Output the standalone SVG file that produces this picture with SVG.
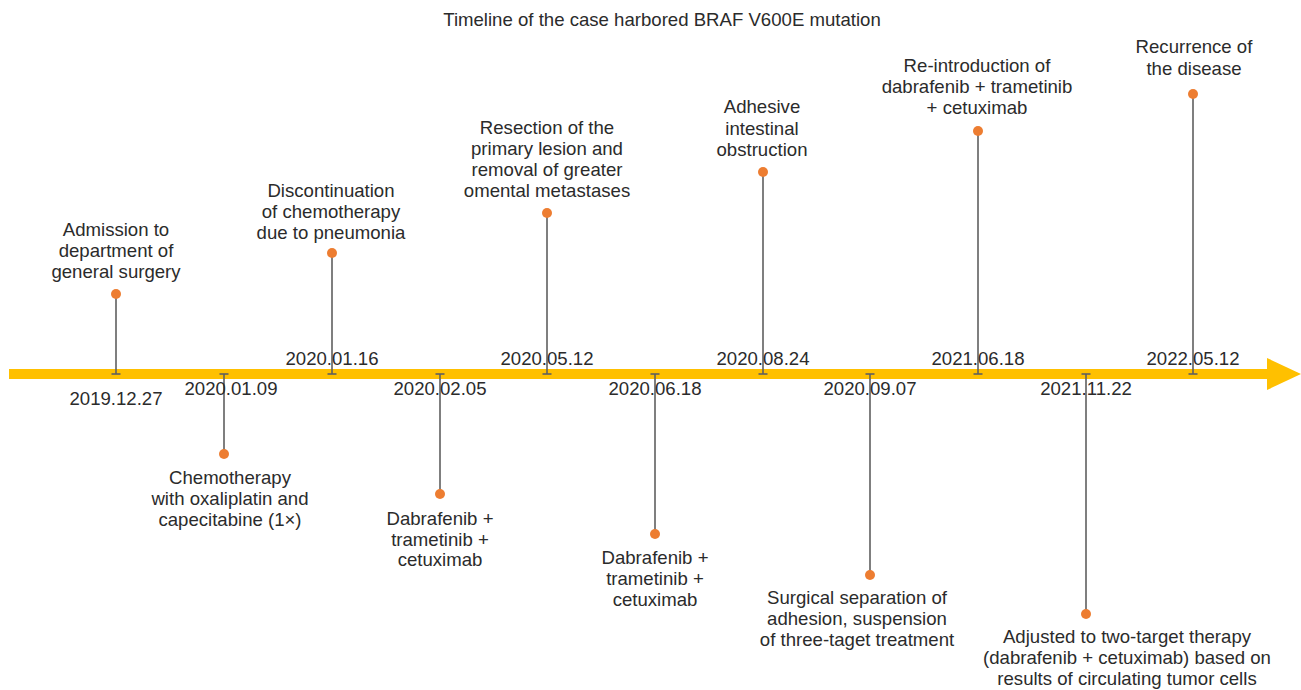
<svg xmlns="http://www.w3.org/2000/svg" width="1301" height="690" viewBox="0 0 1301 690">
<style>
text{font-family:"Liberation Sans",Arial,Helvetica,sans-serif;font-size:18.6px;fill:#2b2b2b;text-anchor:middle}
.stem{stroke:#5f5f5f;stroke-width:1.6;fill:none}
.dot{fill:#ED7D31}
</style>
<defs>
<g id="capmark"><line x1="-4.5" y1="0" x2="4.5" y2="0" stroke="#5f5f5f" stroke-width="1.6"/></g>
</defs>
<rect width="1301" height="690" fill="#ffffff"/>
<text x="662" y="26">Timeline of the case harbored BRAF V600E mutation</text>
<g id="axis">
<rect x="9" y="369" width="1260" height="10" fill="#FFC000"/>
<polygon points="1267,358 1301,374 1267,390" fill="#FFC000"/>
</g>
<g id="connectors">
<line class="stem" x1="116" y1="294" x2="116" y2="374"/><use href="#capmark" x="116" y="374"/>
<line class="stem" x1="332" y1="253" x2="332" y2="374"/><use href="#capmark" x="332" y="374"/>
<line class="stem" x1="547" y1="213" x2="547" y2="374"/><use href="#capmark" x="547" y="374"/>
<line class="stem" x1="763" y1="172" x2="763" y2="374"/><use href="#capmark" x="763" y="374"/>
<line class="stem" x1="978" y1="131" x2="978" y2="374"/><use href="#capmark" x="978" y="374"/>
<line class="stem" x1="1193" y1="94" x2="1193" y2="374"/><use href="#capmark" x="1193" y="374"/>
<line class="stem" x1="224" y1="374" x2="224" y2="454"/><use href="#capmark" x="224" y="374"/>
<line class="stem" x1="440" y1="374" x2="440" y2="494"/><use href="#capmark" x="440" y="374"/>
<line class="stem" x1="655" y1="374" x2="655" y2="534"/><use href="#capmark" x="655" y="374"/>
<line class="stem" x1="870" y1="374" x2="870" y2="575"/><use href="#capmark" x="870" y="374"/>
<line class="stem" x1="1086" y1="374" x2="1086" y2="614"/><use href="#capmark" x="1086" y="374"/>
</g>
<g id="e20191227">
<circle class="dot" cx="116" cy="294" r="5"/>
<text x="116" y="405">2019.12.27</text>
<text x="116" y="236">Admission to</text>
<text x="116" y="257">department of</text>
<text x="116" y="278">general surgery</text>
</g>
<g id="e20200109">
<circle class="dot" cx="224" cy="454" r="5"/>
<text x="231" y="395">2020.01.09</text>
<text x="230" y="484">Chemotherapy</text>
<text x="230" y="505">with oxaliplatin and</text>
<text x="230" y="526">capecitabine (1×)</text>
</g>
<g id="e20200116">
<circle class="dot" cx="332" cy="253" r="5"/>
<text x="332" y="365">2020.01.16</text>
<text x="331" y="197">Discontinuation</text>
<text x="331" y="218">of chemotherapy</text>
<text x="331" y="239">due to pneumonia</text>
</g>
<g id="e20200205">
<circle class="dot" cx="440" cy="494" r="5"/>
<text x="440" y="395">2020.02.05</text>
<text x="440" y="525">Dabrafenib +</text>
<text x="440" y="546">trametinib +</text>
<text x="440" y="566">cetuximab</text>
</g>
<g id="e20200512">
<circle class="dot" cx="547" cy="213" r="5"/>
<text x="547" y="365">2020.05.12</text>
<text x="547" y="134">Resection of the</text>
<text x="547" y="155">primary lesion and</text>
<text x="547" y="176">removal of greater</text>
<text x="547" y="197">omental metastases</text>
</g>
<g id="e20200618">
<circle class="dot" cx="655" cy="534" r="5"/>
<text x="655" y="395">2020.06.18</text>
<text x="655" y="564">Dabrafenib +</text>
<text x="655" y="585">trametinib +</text>
<text x="655" y="606">cetuximab</text>
</g>
<g id="e20200824">
<circle class="dot" cx="763" cy="172" r="5"/>
<text x="763" y="365">2020.08.24</text>
<text x="762" y="113">Adhesive</text>
<text x="762" y="135">intestinal</text>
<text x="762" y="156">obstruction</text>
</g>
<g id="e20200907">
<circle class="dot" cx="870" cy="575" r="5"/>
<text x="870" y="395">2020.09.07</text>
<text x="857" y="604">Surgical separation of</text>
<text x="857" y="625">adhesion, suspension</text>
<text x="857" y="646">of three-taget treatment</text>
</g>
<g id="e20210618">
<circle class="dot" cx="978" cy="131" r="5"/>
<text x="978" y="365">2021.06.18</text>
<text x="977" y="72">Re-introduction of</text>
<text x="977" y="93">dabrafenib + trametinib</text>
<text x="977" y="114">+ cetuximab</text>
</g>
<g id="e20211122">
<circle class="dot" cx="1086" cy="614" r="5"/>
<text x="1086" y="395">2021.11.22</text>
<text x="1127" y="643">Adjusted to two-target therapy</text>
<text x="1127" y="664">(dabrafenib + cetuximab) based on</text>
<text x="1127" y="685">results of circulating tumor cells</text>
</g>
<g id="e20220512">
<circle class="dot" cx="1193" cy="94" r="5"/>
<text x="1193" y="365">2022.05.12</text>
<text x="1194" y="53">Recurrence of</text>
<text x="1194" y="75">the disease</text>
</g>
</svg>
